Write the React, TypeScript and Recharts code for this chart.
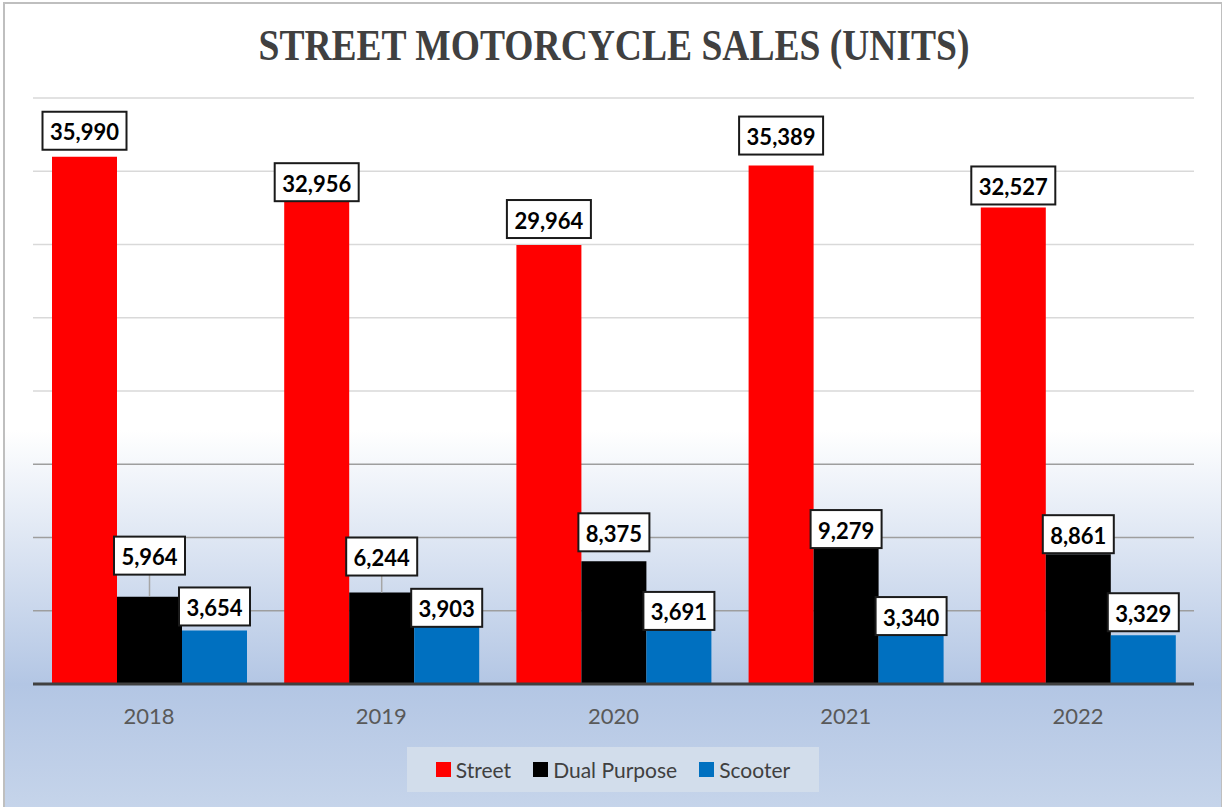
import React from "react";
import { BarChart, Bar, XAxis, YAxis, CartesianGrid, LabelList } from "recharts";

const years = ["2018", "2019", "2020", "2021", "2022"];
const street = [35990, 32956, 29964, 35389, 32527];
const dualPurpose = [5964, 6244, 8375, 9279, 8861];
const scooter = [3654, 3903, 3691, 3340, 3329];
const yTicks = [0, 5000, 10000, 15000, 20000, 25000, 30000, 35000, 40000];

const seriesNames = ["Street", "Dual Purpose", "Scooter"];
const seriesColors = ["#ff0000", "#000000", "#0070c0"];

// gap between label box and bar top (labels were nudged by hand in the original)
const streetGap = [7, 0, 7, 11, 3];
const dualGap = [22, 17, 10, 0, 1];
const scooterGap = [5, 0, 0, 0, 4];

const data = years.map((year, i) => ({
  year,
  street: street[i],
  dual: dualPurpose[i],
  scooter: scooter[i],
}));

const makeLabel = (gaps: number[]) => (props: any) => {
  const { x, y, width, value, index } = props;
  const text = Number(value).toLocaleString("en-US");
  const cx = x + width / 2;
  const gap = gaps[index] ?? 4;
  const h = 38;
  const w = text.length >= 6 ? 84 : 71;
  const bottom = y - gap;
  return (
    <g>
      {gap > 12 && <line x1={cx} x2={cx} y1={bottom} y2={y} stroke="#a6a6a6" strokeWidth={1.5} />}
      <rect x={cx - w / 2} y={bottom - h} width={w} height={h} fill="#fff" stroke="#1a1a1a" strokeWidth={2} />
      <text
        x={cx}
        y={bottom - h / 2 + 1}
        textAnchor="middle"
        dominantBaseline="central"
        fontFamily="Lato"
        fontWeight={700}
        fontSize={22}
        fill="#000"
      >
        {text}
      </text>
    </g>
  );
};

const gridLine = (props: any) => {
  const { x1, x2, y1, y2 } = props;
  return <line key={`h-${y1}`} x1={x1} x2={x2} y1={y1} y2={y2} stroke={y1 > 420 ? "#9e9e9e" : "#d9d9d9"} strokeWidth={1.5} />;
};

export default function App() {
  return (
    <div style={{ position: "absolute", left: 0, top: 0, width: 1222, height: 807, overflow: "hidden", background: "#fff" }}>
      <div
        style={{
          position: "absolute",
          left: 3,
          top: 2,
          width: 1216,
          height: 820,
          border: "2px solid #bfbfbf",
          background: "linear-gradient(to bottom, #ffffff 0%, #ffffff 52%, #b3c6e4 83%, #c8d6eb 100%)",
        }}
      />
      <svg width={1222} height={90} style={{ position: "absolute", left: 0, top: 0 }}>
        <text
          x={614}
          y={60}
          textAnchor="middle"
          textLength={711}
          lengthAdjust="spacingAndGlyphs"
          fontFamily="Liberation Serif"
          fontWeight={700}
          fontSize={44}
          fill="#404040"
        >
          STREET MOTORCYCLE SALES (UNITS)
        </text>
      </svg>
      <div style={{ position: "absolute", left: 0, top: 0 }}>
        <BarChart
          width={1222}
          height={807}
          data={data}
          margin={{ top: 98, right: 28, bottom: 93, left: 33 }}
          barCategoryGap={19}
          barGap={0}
        >
          <CartesianGrid vertical={false} horizontal={gridLine} />
          <YAxis hide domain={[0, 40000]} ticks={yTicks} />
          <XAxis
            dataKey="year"
            height={30}
            axisLine={{ stroke: "#404040", strokeWidth: 3 }}
            tickLine={false}
            tickMargin={18}
            tick={{ fontSize: 22, fill: "#595959", fontFamily: "Lato" }}
          />
          <Bar dataKey="street" name={seriesNames[0]} fill={seriesColors[0]} isAnimationActive={false}>
            <LabelList dataKey="street" content={makeLabel(streetGap)} />
          </Bar>
          <Bar dataKey="dual" name={seriesNames[1]} fill={seriesColors[1]} isAnimationActive={false}>
            <LabelList dataKey="dual" content={makeLabel(dualGap)} />
          </Bar>
          <Bar dataKey="scooter" name={seriesNames[2]} fill={seriesColors[2]} isAnimationActive={false}>
            <LabelList dataKey="scooter" content={makeLabel(scooterGap)} />
          </Bar>
        </BarChart>
      </div>
      <div
        style={{
          position: "absolute",
          left: 407,
          top: 747,
          width: 412,
          height: 45,
          background: "#d2ddeb",
          display: "flex",
          alignItems: "center",
          justifyContent: "center",
          gap: 22,
          fontFamily: "Lato",
          fontSize: 21,
          color: "#404040",
        }}
      >
        {seriesNames.map((name, i) => (
          <div key={name} style={{ display: "flex", alignItems: "center", gap: 5 }}>
            <span style={{ display: "inline-block", width: 15, height: 15, background: seriesColors[i] }} />
            <span>{name}</span>
          </div>
        ))}
      </div>
    </div>
  );
}
